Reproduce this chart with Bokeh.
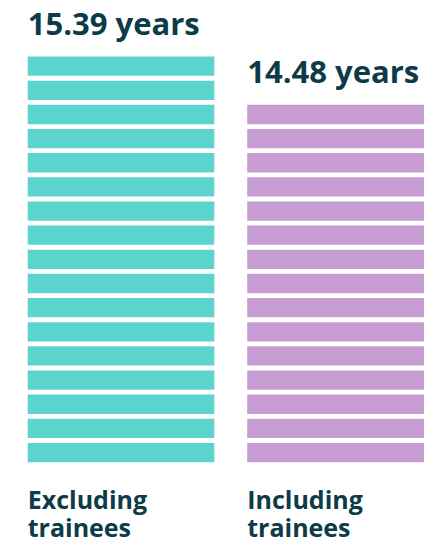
from bokeh.plotting import figure
from bokeh.models import ColumnDataSource, Range1d
from bokeh.core.properties import value
from bokeh.embed import file_html
from bokeh.resources import INLINE

# ---- data ----
categories = ["Excluding\ntrainees", "Including\ntrainees"]
years = [15.39, 14.48]
value_labels = ["15.39 years", "14.48 years"]
stripe_counts = [17, 15]
colors = ["#5cd4ce", "#c89dd3"]

TEXT_COLOR = "#0d3b47"
BAR_W = 0.85
STRIPE_H = 0.8

# build stripe rectangles from the data
sx, sbot, stop, scol = [], [], [], []
for i, n in enumerate(stripe_counts):
    for k in range(n):
        sx.append(i)
        sbot.append(k)
        stop.append(k + STRIPE_H)
        scol.append(colors[i])
stripes = ColumnDataSource(dict(x=sx, bottom=sbot, top=stop, color=scol))

lab = ColumnDataSource(dict(
    x=[i - BAR_W / 2 for i in range(len(categories))],
    top=[stripe_counts[i] - 1 + STRIPE_H for i in range(len(categories))],
    vlab=value_labels,
    line1=[c.split("\n")[0] for c in categories],
    line2=[c.split("\n")[1] for c in categories],
    base=[0] * len(categories),
))

p = figure(width=424, height=538, output_backend="svg", toolbar_location=None,
           x_range=Range1d(-0.549, 1.3827), y_range=Range1d(-3.16, 19.12),
           min_border=0)
p.axis.visible = False
p.grid.visible = False
p.outline_line_color = None
p.background_fill_color = "white"
p.border_fill_color = "white"

p.vbar(x="x", bottom="bottom", top="top", width=BAR_W, color="color",
       line_color=None, source=stripes)

p.text(x="x", y="top", text="vlab", source=lab, text_font=value("Open Sans"),
       text_font_style="bold", text_font_size="31px", text_color=TEXT_COLOR,
       text_baseline="alphabetic", text_align="left", x_offset=0, y_offset=-34)

for col, off in (("line1", 20), ("line2", 48)):
    p.text(x="x", y="base", text=col, source=lab, text_font=value("Open Sans"),
           text_font_style="bold", text_font_size="25px", text_color=TEXT_COLOR,
           text_baseline="top", text_align="left", x_offset=0, y_offset=off)

open("out.html", "w").write(file_html(p, INLINE))
